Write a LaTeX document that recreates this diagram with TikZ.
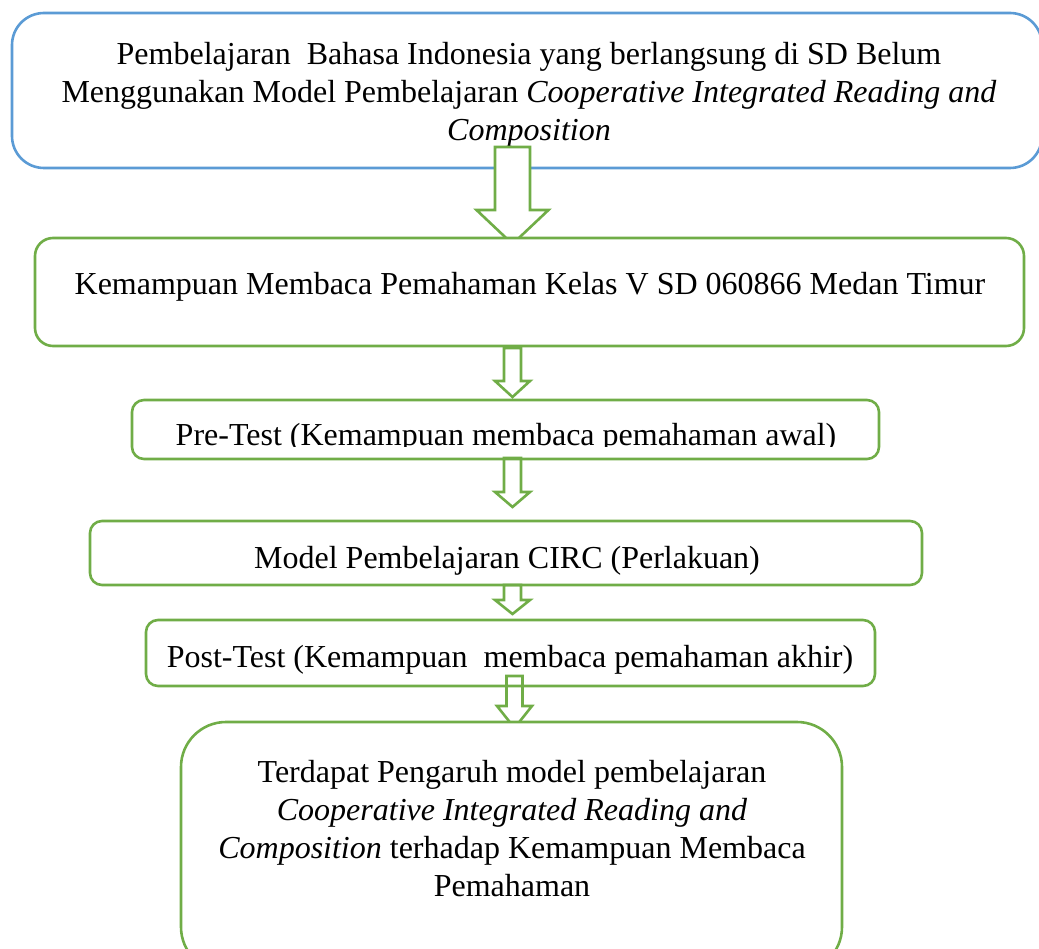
\documentclass[tikz,border=0pt]{standalone}
\usepackage{fontspec}
\setmainfont{Liberation Serif}
\usetikzlibrary{calc}
\definecolor{obBlue}{HTML}{5B9BD5}
\definecolor{obGreen}{HTML}{70AD47}
\begin{document}
\begin{tikzpicture}[x=1pt,y=-1pt,
  boxline/.style={draw=#1, line width=2.6pt, fill=white, inner sep=0pt, outer sep=0pt},
  txt/.style={inner sep=0pt, outer sep=0pt, anchor=base, align=center,
    font=\fontsize{32}{38}\selectfont},
  arrowline/.style={draw=obGreen, line width=2.6pt, line join=miter},
  pics/harrow/.style n args={5}{code={
    \path[arrowline,#5] (-#3,0) -- (-#3,#1-#2) -- (-#4,#1-#2) -- (0,#1)
      -- (#4,#1-#2) -- (#3,#1-#2) -- (#3,0) -- cycle;}}
]
\useasboundingbox (0,0) rectangle (1039,949);
% box 1
\node[boxline=obBlue, rounded corners=32pt, minimum width=1030pt, minimum height=155pt] (b1) at (527,90.5) {};
\node[txt] (t1) at (529,141) {Pembelajaran\ \ Bahasa Indonesia yang berlangsung di SD Belum\\
Menggunakan Model Pembelajaran \textit{Cooperative Integrated Reading and}\\
\textit{Composition}};
% arrow 1
\pic at (512.5,147) {harrow={97}{34}{17.5}{36}{fill=white}};
% box 2
\node[boxline=obGreen, rounded corners=18pt, minimum width=989pt, minimum height=108pt] (b2) at (529.5,292) {};
\node[txt] (t2) at (530,295) {Kemampuan Membaca Pemahaman Kelas V SD 060866 Medan Timur};
% arrow 2
\pic at (512.5,348) {harrow={49}{16}{8.5}{17.5}{fill=white}};
% box 3
\node[boxline=obGreen, rounded corners=12pt, minimum width=747pt, minimum height=59pt] (b3) at (505.5,429.5) {};
\begin{scope}
\clip ($(b3.north west)+(2,2)$) rectangle ($(b3.east)+(0,16.5)$);
\node[txt] (t3) at (506,446) {Pre-Test (Kemampuan membaca pemahaman awal)};
\end{scope}
% arrow 3
\pic at (512.5,458) {harrow={49}{15}{8.5}{17.5}{fill=none}};
% box 4
\node[boxline=obGreen, rounded corners=12pt, minimum width=832pt, minimum height=64pt] (b4) at (506,553) {};
\node[txt] (t4) at (507,568) {Model Pembelajaran CIRC (Perlakuan)};
% arrow 4
\pic at (512.5,585) {harrow={29}{14}{8.5}{17.5}{fill=none}};
% box 5
\node[boxline=obGreen, rounded corners=12pt, minimum width=729pt, minimum height=66pt] (b5) at (510.5,653) {};
\node[txt] (t5) at (510,667) {Post-Test (Kemampuan\ \ membaca pemahaman akhir)};
% arrow 5
\pic at (514.5,676) {harrow={52}{22}{8}{17.5}{fill=none}};
% box 6
\node[boxline=obGreen, rounded corners=45pt, minimum width=661pt, minimum height=250pt] (b6) at (511.5,847) {};
\node[txt] (t6) at (512,896) {Terdapat Pengaruh model pembelajaran\\
\textit{Cooperative Integrated Reading and}\\
\textit{Composition} terhadap Kemampuan Membaca\\
Pemahaman};
\end{tikzpicture}
\end{document}
